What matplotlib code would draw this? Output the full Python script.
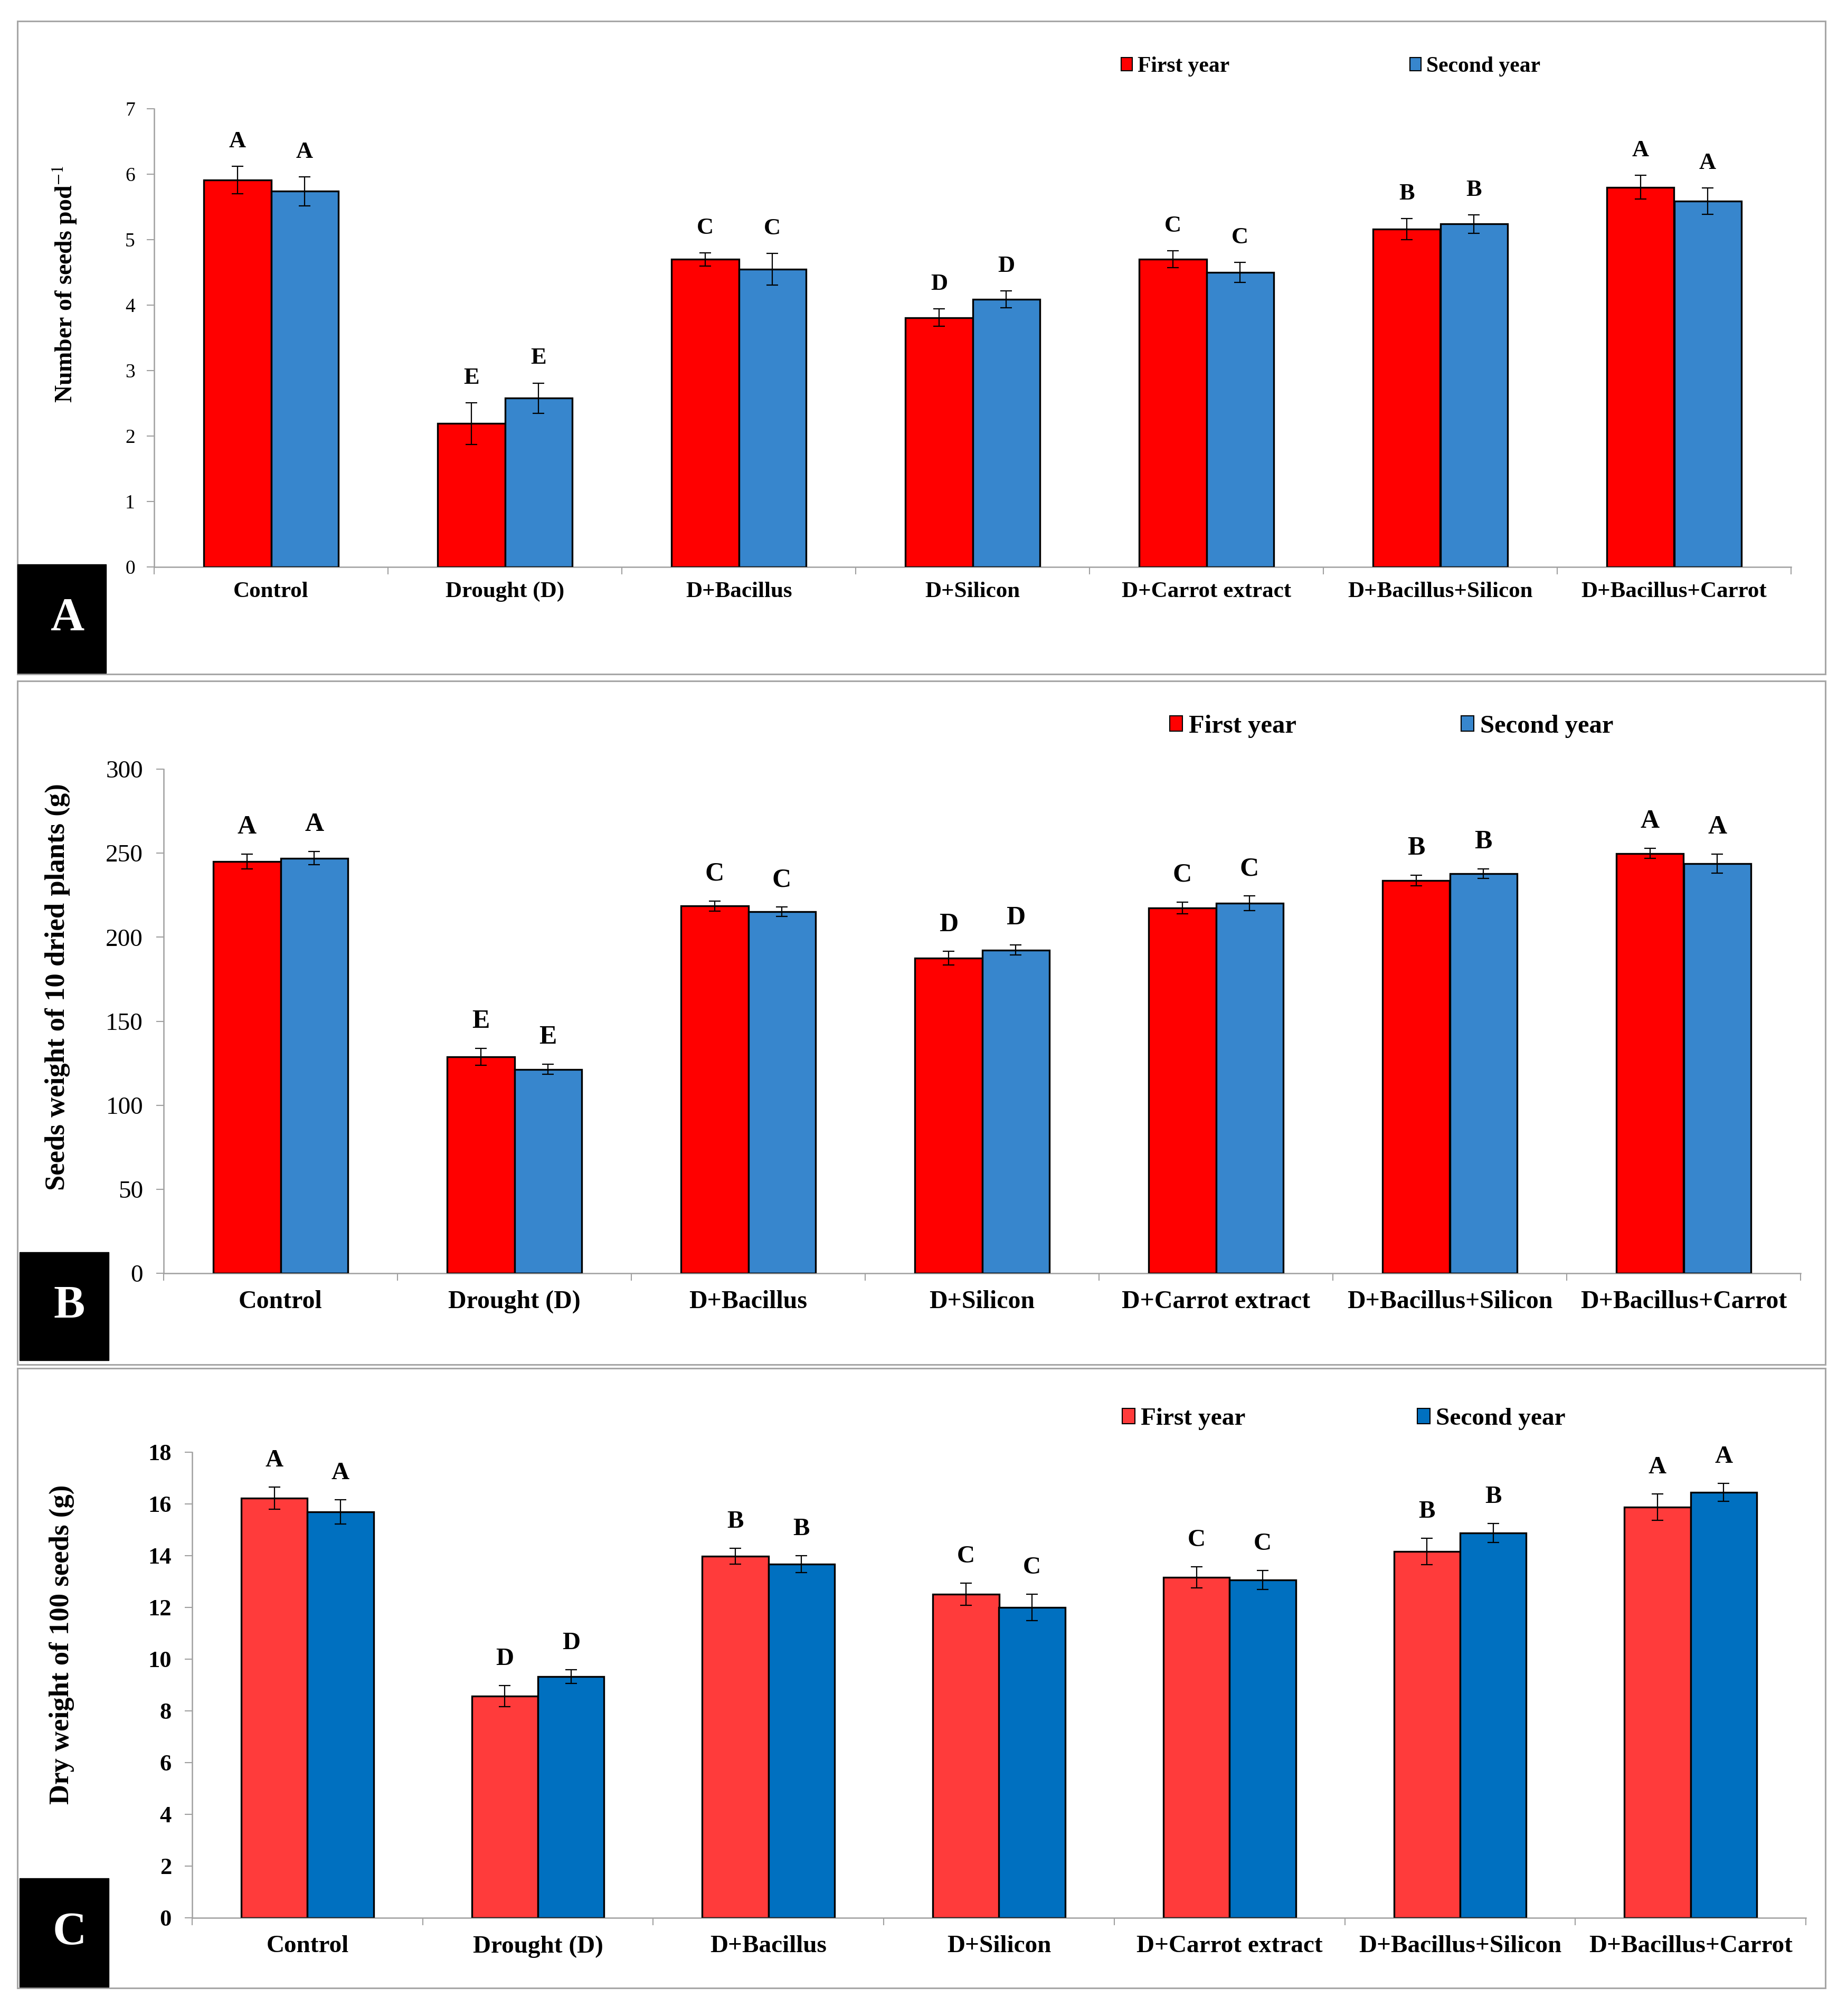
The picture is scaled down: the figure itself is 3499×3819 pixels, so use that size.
import matplotlib
matplotlib.use('Agg')
import matplotlib.pyplot as plt
from matplotlib.patches import Rectangle, Patch
import numpy as np

plt.rcParams['font.family'] = ['Liberation Serif', 'DejaVu Serif']
plt.rcParams['mathtext.fontset'] = 'stix'

categories = ['Control', 'Drought (D)', 'D+Bacillus', 'D+Silicon',
              'D+Carrot extract', 'D+Bacillus+Silicon', 'D+Bacillus+Carrot']
series_names = ['First year', 'Second year']

# Panel A: Number of seeds pod-1
a_first = [5.91, 2.19, 4.70, 3.81, 4.70, 5.16, 5.80]
a_second = [5.74, 2.58, 4.55, 4.09, 4.50, 5.24, 5.59]
a_first_err = [0.21, 0.32, 0.10, 0.13, 0.13, 0.16, 0.18]
a_second_err = [0.22, 0.23, 0.24, 0.13, 0.15, 0.14, 0.20]
a_first_let = ['A', 'E', 'C', 'D', 'C', 'B', 'A']
a_second_let = ['A', 'E', 'C', 'D', 'C', 'B', 'A']
a_yticks = [0, 1, 2, 3, 4, 5, 6, 7]

# Panel B: Seeds weight of 10 dried plants (g)
b_first = [245.0, 128.8, 218.6, 187.5, 217.4, 233.7, 249.8]
b_second = [247.0, 121.3, 215.2, 192.3, 220.2, 237.8, 243.8]
b_first_err = [4.5, 5.0, 3.0, 4.0, 3.5, 3.2, 3.0]
b_second_err = [4.0, 3.0, 2.8, 3.0, 4.4, 2.8, 5.6]
b_first_let = ['A', 'E', 'C', 'D', 'C', 'B', 'A']
b_second_let = ['A', 'E', 'C', 'D', 'C', 'B', 'A']
b_yticks = [0, 50, 100, 150, 200, 250, 300]

# Panel C: Dry weight of 100 seeds (g)
c_first = [16.22, 8.57, 13.98, 12.51, 13.16, 14.16, 15.88]
c_second = [15.69, 9.33, 13.67, 12.00, 13.06, 14.88, 16.45]
c_first_err = [0.43, 0.41, 0.31, 0.43, 0.41, 0.51, 0.51]
c_second_err = [0.47, 0.26, 0.33, 0.51, 0.37, 0.36, 0.35]
c_first_let = ['A', 'D', 'B', 'C', 'C', 'B', 'A']
c_second_let = ['A', 'D', 'B', 'C', 'C', 'B', 'A']
c_yticks = [0, 2, 4, 6, 8, 10, 12, 14, 16, 18]

W, H = 3499, 3819
fig = plt.figure(figsize=(W / 100, H / 100), dpi=100)


def fx(px):
    return px / W


def fy(py):
    return 1 - py / H


def panel(rect, first, second, ferr, serr, flet, slet, yticks, ylabel,
          colors, tick_fs, tick_bold, cat_fs, cat_pad, let_fs, let_off,
          leg_fs, leg_pos, ylab_pos, ylab_fs, ytick_pad):
    ax = fig.add_axes(rect)
    x = np.arange(len(categories))
    w = 0.287
    ax.bar(x - w / 2, first, w, color=colors[0], edgecolor='black', linewidth=2.4,
           yerr=ferr, error_kw=dict(ecolor='black', elinewidth=1.6, capsize=8, capthick=1.6),
           zorder=3, label=series_names[0])
    ax.bar(x + w / 2, second, w, color=colors[1], edgecolor='black', linewidth=2.4,
           yerr=serr, error_kw=dict(ecolor='black', elinewidth=1.6, capsize=8, capthick=1.6),
           zorder=3, label=series_names[1])
    for i in range(len(categories)):
        ax.annotate(flet[i], (x[i] - w / 2, first[i] + ferr[i]), xytext=(0, let_off),
                    textcoords='offset points', ha='center', va='baseline',
                    fontsize=let_fs, fontweight='bold')
        ax.annotate(slet[i], (x[i] + w / 2, second[i] + serr[i]), xytext=(0, let_off),
                    textcoords='offset points', ha='center', va='baseline',
                    fontsize=let_fs, fontweight='bold')
    ax.set_xlim(-0.5, len(categories) - 0.5)
    ax.set_ylim(yticks[0], yticks[-1])
    ax.set_yticks(yticks)
    ax.set_yticklabels([str(t) for t in yticks], fontsize=tick_fs,
                       fontweight='bold' if tick_bold else 'normal')
    ax.set_xticks(x)
    ax.set_xticklabels(categories, fontsize=cat_fs, fontweight='bold')
    ax.set_xticks(np.arange(len(categories) + 1) - 0.5, minor=True)
    ax.tick_params(axis='x', which='major', length=0, pad=cat_pad)
    ax.tick_params(axis='x', which='minor', length=10, width=1.5, color='#A0A0A0', direction='out')
    ax.tick_params(axis='y', length=10, width=1.5, color='#A0A0A0', direction='out', pad=ytick_pad)
    for s in ['top', 'right']:
        ax.spines[s].set_visible(False)
    for s in ['left', 'bottom']:
        ax.spines[s].set_color('#A0A0A0')
        ax.spines[s].set_linewidth(1.8)
    fig.text(ylab_pos[0], ylab_pos[1], ylabel, rotation=90, ha='center', va='center',
             fontsize=ylab_fs, fontweight='bold')
    handles = [Patch(facecolor=colors[0], edgecolor='black', linewidth=1.5),
               Patch(facecolor=colors[1], edgecolor='black', linewidth=1.5)]
    legs = []
    for k in range(2):
        lg = ax.legend([handles[k]], [series_names[k]], loc='center left',
                       bbox_to_anchor=leg_pos[k], bbox_transform=fig.transFigure,
                       frameon=False, borderpad=0, borderaxespad=0,
                       handlelength=0.5, handleheight=0.55, handletextpad=0.25,
                       prop={'size': leg_fs, 'weight': 'bold'})
        legs.append(lg)
    ax.add_artist(legs[0])
    return ax


# Panel borders
for (y0, y1) in [(40, 1277), (1290, 2585), (2592, 3766)]:
    fig.patches.append(Rectangle((fx(33), fy(y1)), fx(3458) - fx(33), fy(y0) - fy(y1),
                                 transform=fig.transFigure, facecolor='none',
                                 edgecolor='#A6A6A6', linewidth=2.2, zorder=0))

colors_ab = ['#FF0000', '#3786CD']
colors_c = ['#FF3B3B', '#0070C0']

panel([fx(292), fy(1074), fx(3393) - fx(292), fy(206) - fy(1074)],
      a_first, a_second, a_first_err, a_second_err, a_first_let, a_second_let,
      a_yticks, r'Number of seeds pod$^{-1}$', colors_ab,
      tick_fs=27, tick_bold=False, cat_fs=31, cat_pad=20, let_fs=32, let_off=26,
      leg_fs=30, leg_pos=[(fx(2124), fy(126)), (fx(2671), fy(126))],
      ylab_pos=(fx(123), fy(539)), ylab_fs=33, ytick_pad=16)

panel([fx(310), fy(2412), fx(3411) - fx(310), fy(1457) - fy(2412)],
      b_first, b_second, b_first_err, b_second_err, b_first_let, b_second_let,
      b_yticks, 'Seeds weight of 10 dried plants (g)', colors_ab,
      tick_fs=34, tick_bold=False, cat_fs=34.5, cat_pad=23, let_fs=36, let_off=28,
      leg_fs=35, leg_pos=[(fx(2216), fy(1376)), (fx(2768), fy(1376))],
      ylab_pos=(fx(109), fy(1870)), ylab_fs=38, ytick_pad=18)

panel([fx(364), fy(3633), fx(3421) - fx(364), fy(2751) - fy(3633)],
      c_first, c_second, c_first_err, c_second_err, c_first_let, c_second_let,
      c_yticks, 'Dry weight of 100 seeds (g)', colors_c,
      tick_fs=32, tick_bold=True, cat_fs=34, cat_pad=24, let_fs=34, let_off=28,
      leg_fs=34, leg_pos=[(fx(2126), fy(2688)), (fx(2685), fy(2688))],
      ylab_pos=(fx(117), fy(3115)), ylab_fs=38, ytick_pad=18)

# Black panel tags
for (x0, y0, x1, y1, lab) in [(33, 1069, 201, 1275, 'A'), (37, 2372, 206, 2577, 'B'),
                              (37, 3558, 206, 3764, 'C')]:
    fig.patches.append(Rectangle((fx(x0), fy(y1)), fx(x1) - fx(x0), fy(y0) - fy(y1),
                                 transform=fig.transFigure, facecolor='black',
                                 edgecolor='black', zorder=5))
    fig.text((fx(x0) + fx(x1)) / 2 + fx(10), (fy(y0) + fy(y1)) / 2, lab, color='white',
             fontsize=64, fontweight='bold', ha='center', va='center', zorder=6)

fig.savefig('out.png', dpi=100, facecolor='white')
